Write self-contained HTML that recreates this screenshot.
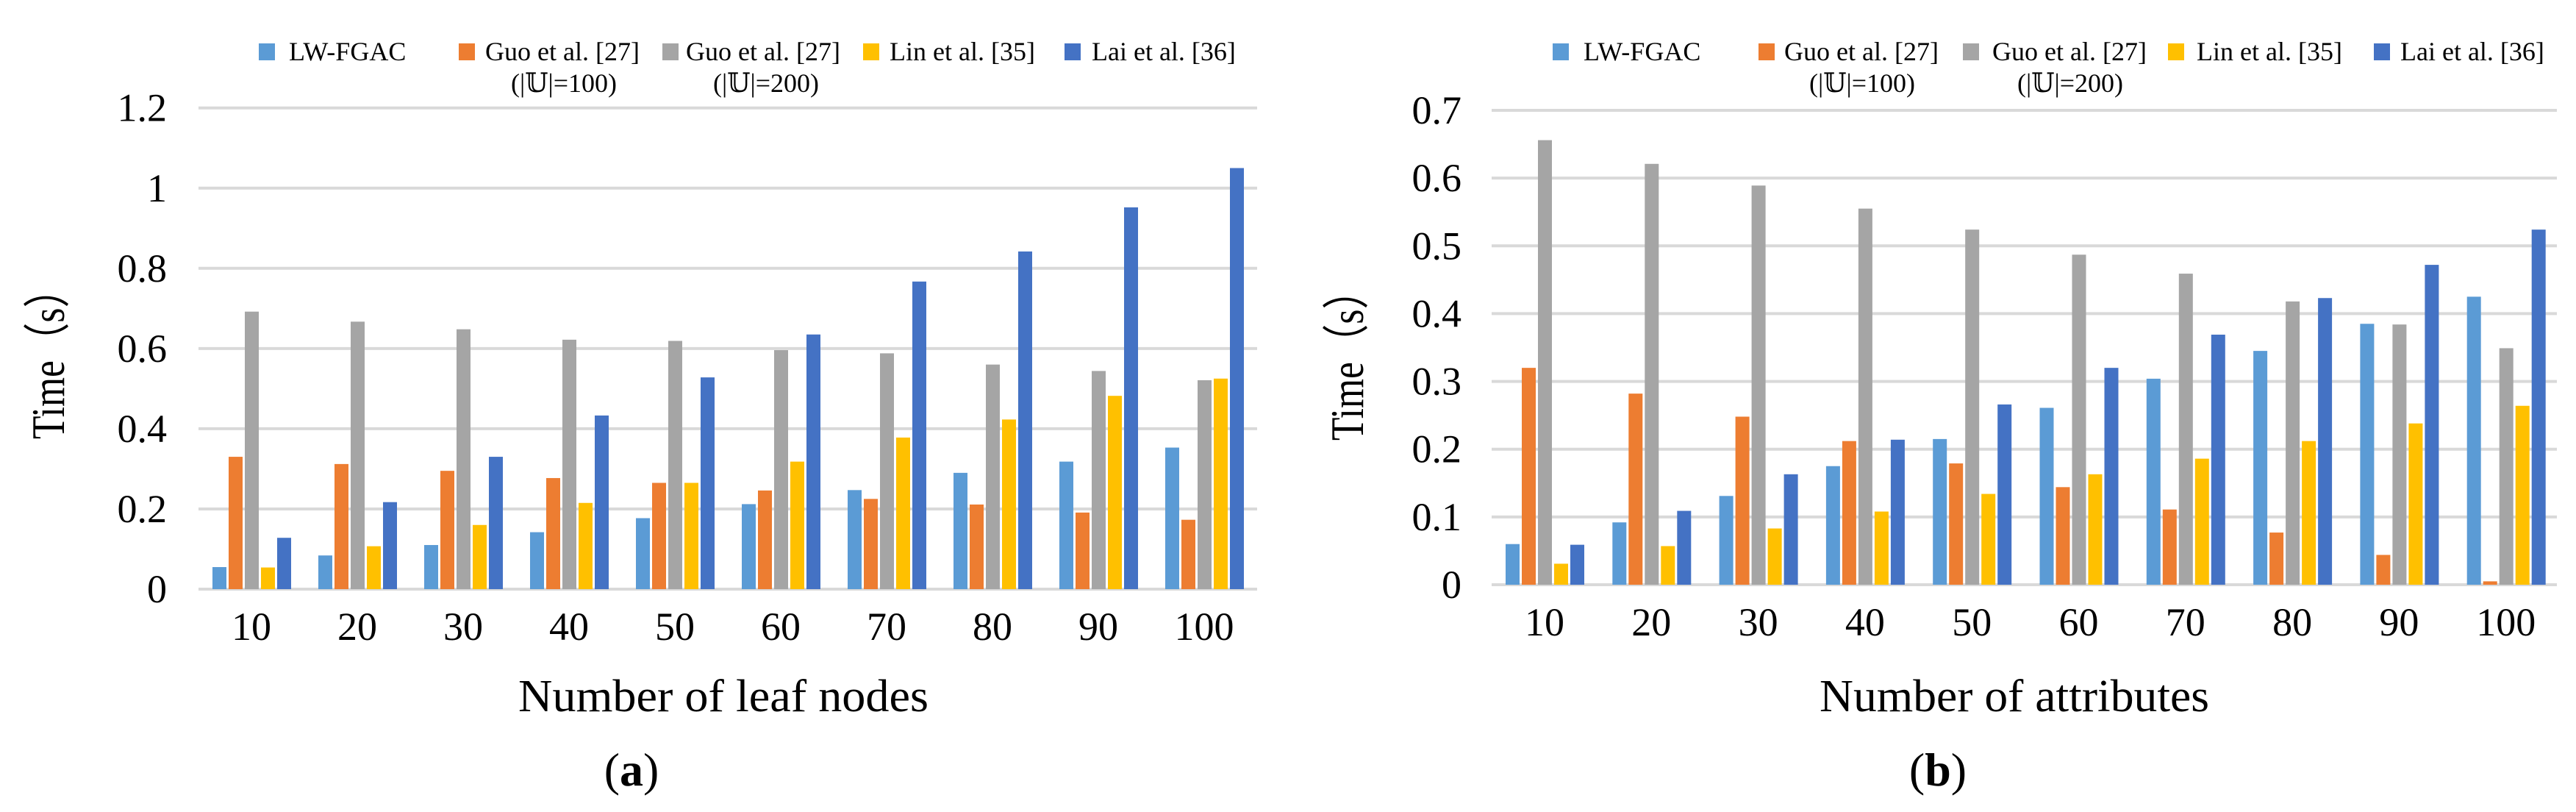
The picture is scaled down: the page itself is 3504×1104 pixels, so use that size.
<!DOCTYPE html>
<html><head><meta charset="utf-8"><style>
html,body{margin:0;padding:0;background:#fff;}
svg{display:block;}
svg text{font-family:"Liberation Serif","Times New Roman","DejaVu Serif",serif;}
</style></head><body>
<svg id="chart" width="3504" height="1104" viewBox="0 0 3504 1104" xmlns="http://www.w3.org/2000/svg"></svg>
<script>
const categories = [10,20,30,40,50,60,70,80,90,100];
const seriesNames = ["LW-FGAC","Guo et al. [27]","Guo et al. [27]","Lin et al. [35]","Lai et al. [36]"];
const seriesSub = ["","(|𝕌|=100)","(|𝕌|=200)","",""];
const colors = ["#5B9BD5","#ED7D31","#A5A5A5","#FFC000","#4472C4"];
// chart (a)
const aLW    = [0.055,0.084,0.110,0.142,0.177,0.212,0.247,0.290,0.318,0.353];
const aGuo100= [0.330,0.312,0.295,0.277,0.265,0.246,0.225,0.211,0.191,0.173];
const aGuo200= [0.692,0.667,0.648,0.622,0.619,0.596,0.588,0.560,0.544,0.521];
const aLin   = [0.054,0.107,0.160,0.215,0.265,0.318,0.378,0.423,0.482,0.525];
const aLai   = [0.128,0.217,0.330,0.433,0.528,0.635,0.767,0.842,0.952,1.050];
const aTicks = ["0","0.2","0.4","0.6","0.8","1","1.2"];
const aTickVals = [0,0.2,0.4,0.6,0.8,1.0,1.2];
// chart (b)
const bLW    = [0.060,0.092,0.131,0.175,0.215,0.261,0.304,0.345,0.385,0.425];
const bGuo100= [0.320,0.282,0.248,0.212,0.179,0.144,0.111,0.077,0.044,0.005];
const bGuo200= [0.656,0.621,0.589,0.555,0.524,0.487,0.459,0.418,0.384,0.349];
const bLin   = [0.031,0.057,0.083,0.108,0.134,0.163,0.186,0.212,0.238,0.264];
const bLai   = [0.059,0.109,0.163,0.214,0.266,0.320,0.369,0.423,0.472,0.524];
const bTicks = ["0","0.1","0.2","0.3","0.4","0.5","0.6","0.7"];
const bTickVals = [0,0.1,0.2,0.3,0.4,0.5,0.6,0.7];

const NS="http://www.w3.org/2000/svg";
const svg=document.getElementById('chart');
function mk(tag,attrs,parent){const e=document.createElementNS(NS,tag);for(const k in attrs)e.setAttribute(k,attrs[k]);(parent||svg).appendChild(e);return e;}

function drawChart(cfg){
  const g=mk('g',{});
  
  
  const y=v=>cfg.y0-(v/cfg.vmax)*(cfg.y0-cfg.ytop);
  const x=(i,s)=>cfg.firstBar+i*cfg.pitch+s*22;
  cfg.tickVals.forEach((v,k)=>{
    const l=mk('line',{x1:cfg.left,x2:cfg.right,y1:y(v),y2:y(v),stroke:'#d9d9d9','stroke-width':4},g);
    
    
    const t=mk('text',{x:cfg.tickRight,y:y(v)+18,'text-anchor':'end','font-size':54,fill:'#000'},g);
    t.textContent=cfg.ticks[k];
    
    
  });
  cfg.series.forEach((arr,s)=>{
    arr.forEach((v,i)=>{
      const r=mk('rect',{x:x(i,s),y:y(v),width:19,height:cfg.y0-y(v),fill:colors[s]},g);
      
      
    });
  });
  categories.forEach((c,i)=>{
    const t=mk('text',{x:cfg.firstBar+i*cfg.pitch+53,y:cfg.y0+69,'text-anchor':'middle','font-size':54},g);
    t.textContent=c;
    
    
  });
  cfg.legSq.forEach((sx,s)=>{
    const r=mk('rect',{x:sx,y:59,width:22,height:23,fill:colors[s]},g);
    
    
    const t=mk('text',{x:cfg.legTx[s],y:82,'font-size':36},g);
    t.textContent=seriesNames[s];
    
    
    if(seriesSub[s]){
      const t2=mk('text',{x:cfg.legSub[s],y:125,'font-size':36,'text-anchor':'middle'},g);
      t2.textContent=seriesSub[s];
      
      
    }
  });
  const yt=mk('text',{x:0,y:0,'font-size':64,'text-anchor':'middle',transform:`translate(${cfg.ytX},${cfg.ytY}) rotate(-90)`,textLength:230,lengthAdjust:'spacingAndGlyphs'},g);
  yt.textContent='Time（s）';
  
  
  const xt=mk('text',{x:cfg.xtX,y:967,'font-size':62,'text-anchor':'middle',textLength:cfg.xtLen,lengthAdjust:'spacingAndGlyphs'},g);
  xt.textContent=cfg.xTitle;
  
  
  const cap=mk('text',{x:cfg.capX,y:1068,'font-size':64,'text-anchor':'middle'},g);
  cap.innerHTML='(<tspan font-weight="bold">'+cfg.id+'</tspan>)';
  
  
}

drawChart({id:'a',left:270,right:1710,y0:801,ytop:146.7,vmax:1.2,firstBar:289,pitch:144,
  tickVals:aTickVals,ticks:aTicks,tickRight:227,series:[aLW,aGuo100,aGuo200,aLin,aLai],
  legSq:[352,624,901,1174,1448],legTx:[393,660,933,1210,1485],legSub:[0,767,1042,0,0],
  ytX:87,ytY:482,xtX:984,xtLen:558,xTitle:'Number of leaf nodes',capX:859});
drawChart({id:'b',left:2029,right:3478,y0:795,ytop:150,vmax:0.7,firstBar:2048,pitch:145.3,
  tickVals:bTickVals,ticks:bTicks,tickRight:1988,series:[bLW,bGuo100,bGuo200,bLin,bLai],
  legSq:[2112,2392,2670,2949,3229],legTx:[2154,2427,2710,2988,3265],legSub:[0,2533,2816,0,0],
  ytX:1854,ytY:484,xtX:2740,xtLen:530,xTitle:'Number of attributes',capX:2636});
</script>
</body></html>
